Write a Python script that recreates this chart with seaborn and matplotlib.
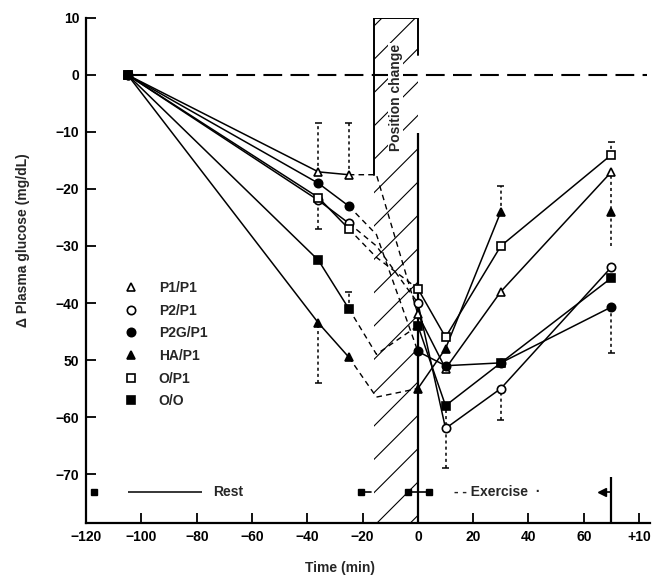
import matplotlib
matplotlib.use("Agg")
import matplotlib.pyplot as plt
import numpy as np
import pandas as pd
import seaborn as sns
from matplotlib.lines import Line2D

# --- data ---
series = ["P1/P1", "P2/P1", "P2G/P1", "HA/P1", "O/P1", "O/O"]
markers = ["^", "o", "o", "^", "s", "s"]
filled = [False, False, True, True, False, True]

t_rest = [-105, -36, -25]
t_trans = [-25, -15, 0]
t_ex = [0, 10, 30, 70]

rest_vals = {
    "P1/P1": [0, -17.0, -17.5],
    "P2/P1": [0, -22.0, -26.0],
    "P2G/P1": [0, -19.0, -23.0],
    "HA/P1": [0, -43.5, -49.5],
    "O/P1": [0, -21.5, -27.0],
    "O/O": [0, -32.5, -41.0],
}
# value at the -15 min corner of the dashed position-change segment
trans_mid = {"P1/P1": -17.5, "P2/P1": -30.0, "P2G/P1": -28.0,
             "HA/P1": -56.5, "O/P1": -32.0, "O/O": -49.0}
ex_vals = {
    "P1/P1": [-42.0, -51.5, -38.0, -17.0],
    "P2/P1": [-40.0, -62.0, -55.0, -33.7],
    "P2G/P1": [-48.5, -51.0, -50.5, -40.7],
    "HA/P1": [-55.0, -48.0, -24.0, -24.0],
    "O/P1": [-37.5, -46.0, -30.0, -14.0],
    "O/O": [-44.0, -58.0, -50.5, -35.6],
}
# HA/P1 at 70 min is not joined to the 30 min point
unlinked_last = {"HA/P1"}

# error bars (time, from, to)
err_t = [-36, -36, -36, -25, -25, 10, 30, 30, 70, 70, 70]
err_lo = [-17.0, -43.5, -21.5, -17.5, -41.0, -58.0, -24.0, -55.0, -14.0, -30.0, -40.7]
err_hi = [-8.5, -54.0, -27.0, -8.4, -38.0, -69.0, -19.5, -60.5, -11.8, -17.5, -48.8]

x_ticks = [-120, -100, -80, -60, -40, -20, 0, 20, 40, 60, 80]
x_labels = ["\u2212120", "\u2212100", "\u221280", "\u221260", "\u221240", "\u221220",
            "0", "20", "40", "60", "+10"]
y_ticks = [-70, -60, -50, -40, -30, -20, -10, 0, 10]
y_labels = ["\u221270", "\u221260", "50", "\u221240", "\u221230", "\u221220", "\u221210", "0", "10"]

sns.set_theme(style="ticks")
plt.rcParams["font.family"] = ["Liberation Sans", "DejaVu Sans"]
plt.rcParams["hatch.linewidth"] = 0.8

fig = plt.figure(figsize=(6.58, 5.78), dpi=100)
ax = fig.add_axes([0.131, 0.095, 0.857, 0.874])

rows = []
for name in series:
    for t, v in zip(t_rest, rest_vals[name]):
        rows.append((name, "rest", 0, t, v))
    for t, v in zip(t_trans, [rest_vals[name][-1], trans_mid[name], ex_vals[name][0]]):
        rows.append((name, "trans", 0, t, v))
    for i, (t, v) in enumerate(zip(t_ex, ex_vals[name])):
        seg = 1 if (name in unlinked_last and i == len(t_ex) - 1) else 0
        rows.append((name, "ex", seg, t, v))
df = pd.DataFrame(rows, columns=["series", "phase", "seg", "t", "v"])

# hatched position-change band
ax.axvspan(-16, 0, fill=False, hatch="/", edgecolor="black", linewidth=0, zorder=0)

for name, mk, fl in zip(series, markers, filled):
    sub = df[df["series"] == name]
    sns.lineplot(data=sub[sub["phase"] == "trans"], x="t", y="v", estimator=None,
                 sort=False, color="black", lw=1.0, linestyle=(0, (4, 3)), ax=ax, zorder=2)
    for phase in ["rest", "ex"]:
        sns.lineplot(data=sub[sub["phase"] == phase], x="t", y="v", units="seg",
                     estimator=None, sort=False, color="black", lw=1.1,
                     marker=mk, markersize=6, markeredgecolor="black", markeredgewidth=1.2,
                     markerfacecolor="black" if fl else "white", ax=ax, zorder=3)

# error bars
for t, lo, hi in zip(err_t, err_lo, err_hi):
    ax.vlines(t, min(lo, hi), max(lo, hi), color="black", lw=1.1, linestyle=(0, (2, 2)), zorder=2)
    ax.hlines(hi, t - 1.3, t + 1.3, color="black", lw=1.1, zorder=2)

# zero reference line
ax.hlines(0, -105, 83, color="black", lw=1.5, linestyle=(0, (9, 4)), zorder=1)

# position-change box
ax.plot([-16, -16, 0, 0], [-17.5, 10, 10, 3.5], color="black", lw=1.4, zorder=2)
ax.text(-8, -4, "Position change", rotation=90, ha="center", va="center",
        fontsize=10, fontweight="bold", zorder=4,
        bbox=dict(facecolor="white", edgecolor="none", pad=0.5))
ax.vlines(0, -78.6, -10.2, color="black", lw=1.6, zorder=2)
ax.vlines(70, -78.6, -70.5, color="black", lw=1.6, zorder=2)

# rest / exercise bar
ax.plot([-117], [-73.2], marker="s", color="black", markersize=5)
ax.hlines(-73.2, -105, -78, color="black", lw=1.1)
ax.text(-74, -73.2, "Rest", ha="left", va="center", fontsize=10, fontweight="bold")
ax.plot([-20.5, -17], [-73.2, -73.2], color="black", lw=1.2, marker="s", markersize=5, markevery=[0])
ax.plot([-3.5, 4], [-73.2, -73.2], color="black", lw=1.2, marker="s", markersize=5)
ax.text(13, -73.2, "- - Exercise  \u00b7", ha="left", va="center", fontsize=10, fontweight="bold")
ax.plot([66.5, 70], [-73.2, -73.2], color="black", lw=1.2, marker="<", markersize=6, markevery=[0])

# legend
handles = [Line2D([], [], marker=mk, linestyle="none", markersize=6, markeredgecolor="black",
                  markeredgewidth=1.2, markerfacecolor="black" if fl else "white")
           for mk, fl in zip(markers, filled)]
ax.legend(handles, series, loc="upper left", bbox_to_anchor=(0.045, 0.49), frameon=False,
          labelspacing=0.62, handletextpad=1.0, borderaxespad=0,
          prop={"weight": "bold", "size": 10})

ax.set_xlim(-120, 84)
ax.set_ylim(-78.6, 10)
ax.set_xticks(x_ticks)
ax.set_xticklabels(x_labels, fontweight="bold")
ax.set_yticks(y_ticks)
ax.set_yticklabels(y_labels, fontweight="bold")
ax.tick_params(direction="in", length=7, width=1.3, labelsize=10, colors="black", pad=5)
for s in ["top", "right"]:
    ax.spines[s].set_visible(False)
for s in ["left", "bottom"]:
    ax.spines[s].set_linewidth(1.6)
    ax.spines[s].set_color("black")

ax.set_xlabel("Time (min)", fontsize=10, fontweight="bold")
ax.set_ylabel("\u0394 Plasma glucose (mg/dL)", fontsize=10, fontweight="bold")
ax.xaxis.set_label_coords(0.45, -0.075)
ax.yaxis.set_label_coords(-0.1, 0.56)

fig.savefig("out.png", dpi=100)
